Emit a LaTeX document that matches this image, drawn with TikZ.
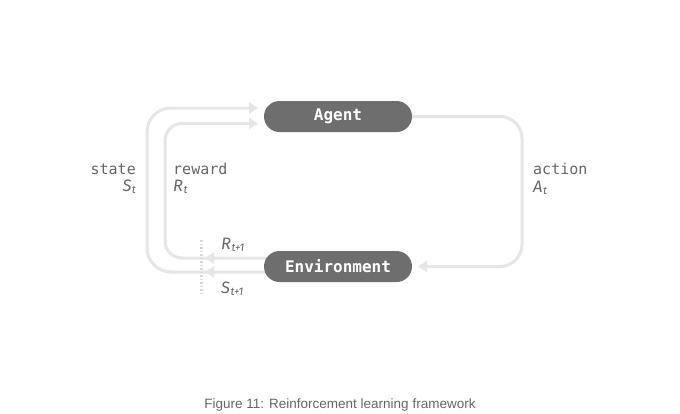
\documentclass[tikz,border=0pt]{standalone}
\usepackage{fontspec}
\setmainfont{Liberation Sans}
\newfontfamily\monofnt{DejaVu Sans Mono}
\newfontfamily\itfnt{Fira Sans}
\usetikzlibrary{arrows.meta}
\definecolor{linegray}{HTML}{E6E6E6}
\definecolor{txtgray}{HTML}{666666}
\definecolor{nodegray}{HTML}{6E6E6E}
\definecolor{dotgray}{HTML}{D8D8D8}
\pgfdeclarelayer{bg}
\pgfsetlayers{bg,main}
\newcommand{\vsym}[2]{{\itfnt\itshape\fontsize{16.5}{18}\selectfont #1\kern0.5pt{\fontsize{11}{12}\selectfont\raisebox{-2.5pt}{#2}}}}
\begin{document}
\begin{tikzpicture}[x=1pt,y=-1pt,
  pill/.style={draw=none,fill=nodegray,rounded corners=15.5pt,minimum width=148pt,minimum height=31pt,inner sep=0pt,text=white,font=\monofnt\bfseries\fontsize{16}{18}\selectfont},
  conn/.style={draw=linegray,line width=3pt},
  tip/.style={-{Triangle[length=9pt,width=11pt,fill=linegray]}},
  lbl/.style={text=txtgray,font=\monofnt\fontsize{15}{17}\selectfont,inner sep=0pt},
  sym/.style={text=txtgray,inner sep=0pt}
]
\useasboundingbox (0,0) rectangle (680,413);
% nodes
\node[pill] (agent) at (338,116.5) {Agent};
\node[pill] (env) at (338,266.5) {Environment};
% coordinates
\coordinate (dotT) at (201.5,240);
\coordinate (dotB) at (201.5,293);
\coordinate (rtip) at (205,258);
\coordinate (stip) at (205,272);
\coordinate (rstart) at (217,258);
\coordinate (sstart) at (217,272);
\coordinate (aS) at (258,108);
\coordinate (aR) at (258,123.5);
\coordinate (aA) at (418,266.5);
\begin{pgfonlayer}{bg}
\fill[white] (0,0) rectangle (680,413);
% action loop
\draw[conn,tip,rounded corners=22pt] (agent.east) -- (522,116.5) -- (522,266.5) -- (aA);
% state loop (outer)
\draw[conn,tip,rounded corners=24pt] ([xshift=4pt]env.west |- stip) -- (147,272) -- (147,108) -- (aS);
% reward loop (inner)
\draw[conn,tip,rounded corners=17pt] ([xshift=4pt]env.west |- rtip) -- (165,258) -- (165,123.5) -- (aR);
% arrowheads at the dotted line
\draw[conn,tip] (rstart) -- (rtip);
\draw[conn,tip] (sstart) -- (stip);
% dotted separator
\draw[dotgray,line width=3pt,dash pattern=on 1.5pt off 2pt] (dotT) -- (dotB);
\end{pgfonlayer}
% labels
\node[lbl,anchor=base east] (lstate) at (136,174) {state};
\node[sym,anchor=base east] (lst) at (136,191) {\vsym{S}{t}};
\node[lbl,anchor=base west] (lreward) at (173,174) {reward};
\node[sym,anchor=base west] (lrt) at (173,191) {\vsym{R}{t}};
\node[lbl,anchor=base west] (laction) at (533,174) {action};
\node[sym,anchor=base west] (lat) at (533,192) {\vsym{A}{t}};
\node[sym,anchor=base west] (lr1) at (221,249) {\vsym{R}{t+1}};
\node[sym,anchor=base west] (ls1) at (221,293) {\vsym{S}{t+1}};
% caption
\node[anchor=base,text=txtgray,font=\fontsize{13.5}{16}\selectfont,inner sep=0pt] (cap) at (340,408) {Figure 11: Reinforcement learning framework};
\end{tikzpicture}
\end{document}
